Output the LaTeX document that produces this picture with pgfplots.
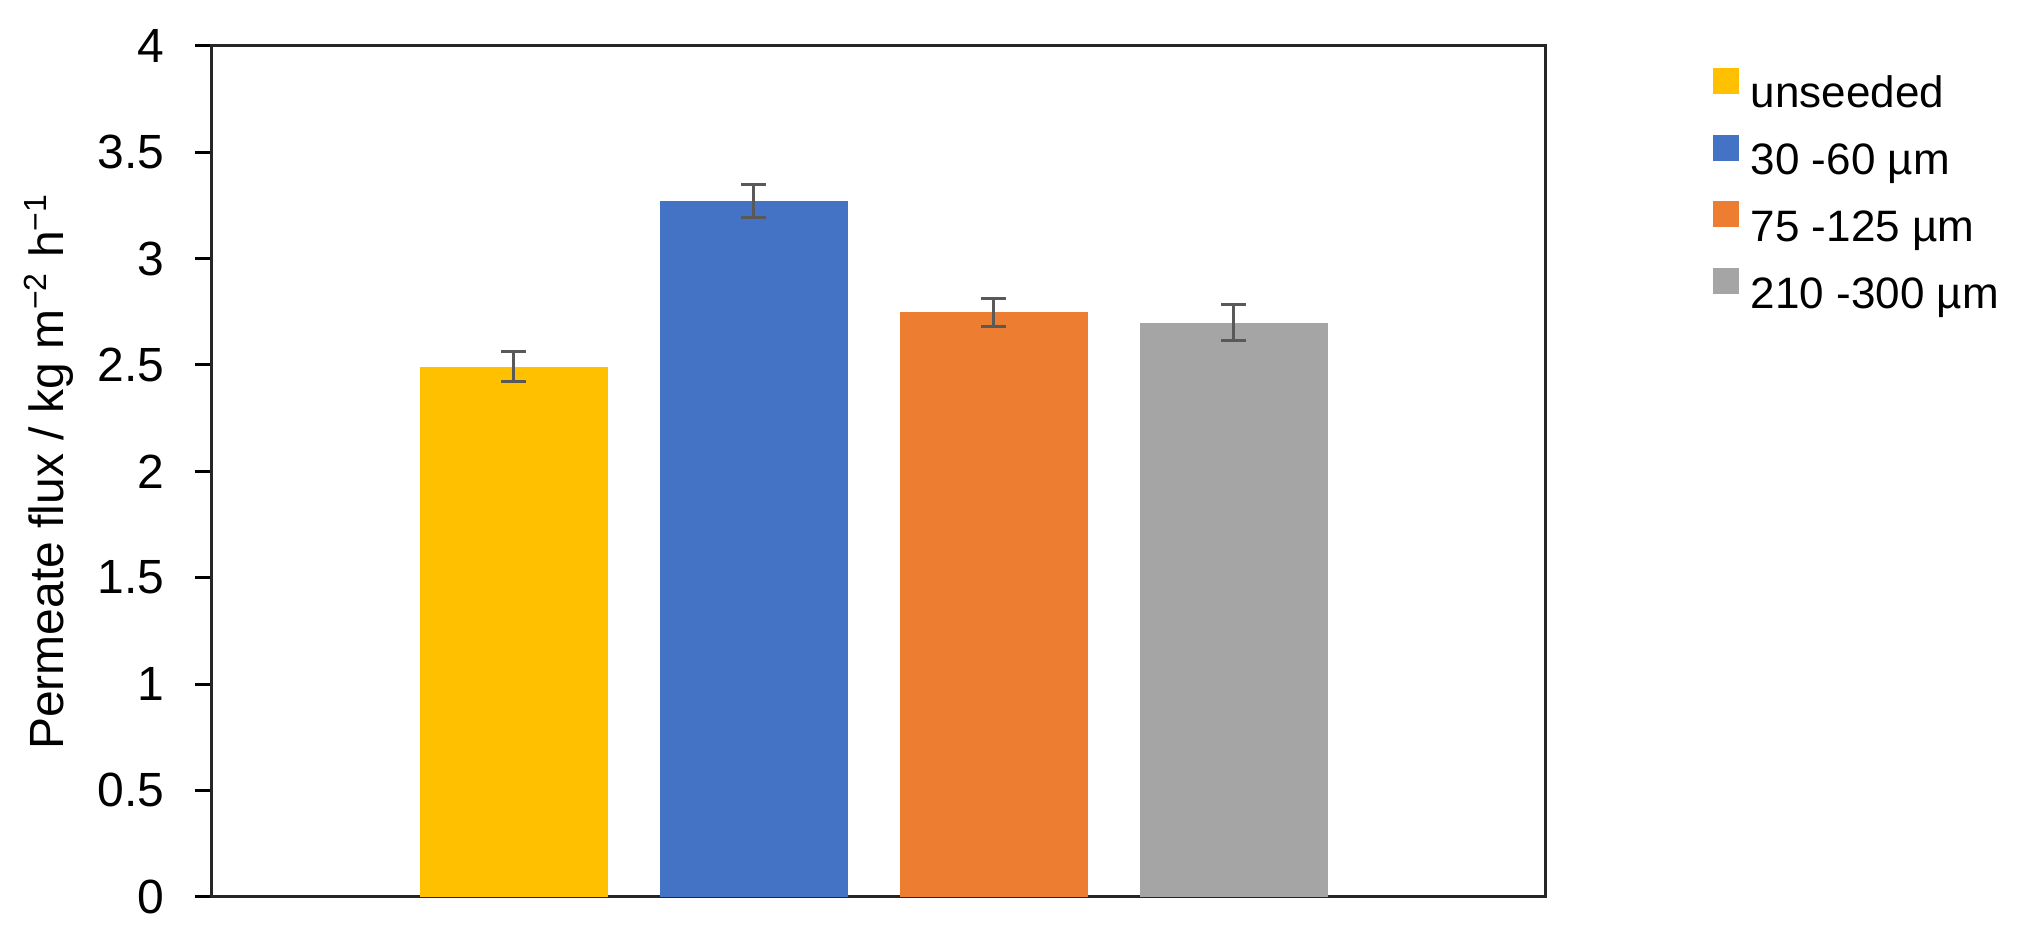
\documentclass[border=0pt]{standalone}
\usepackage{fontspec}
\setmainfont{Liberation Sans}
\usepackage{pgfplots}
\pgfplotsset{compat=1.18}

\definecolor{cyellow}{HTML}{FFC000}
\definecolor{cblue}{HTML}{4472C4}
\definecolor{corange}{HTML}{ED7D31}
\definecolor{cgray}{HTML}{A5A5A5}
\definecolor{errcol}{HTML}{595959}

\newcommand{\fs}{\fontsize{12}{14}\selectfont}
\newcommand{\fl}{\fontsize{11}{13}\selectfont}

\begin{document}
\begin{tikzpicture}
\begin{axis}[
  scale only axis,
  width=333.25pt, height=212.75pt,
  ybar, bar width=47pt,
  xmin=-1.258, xmax=4.296,
  ymin=0, ymax=4,
  ytick={0,0.5,...,4},
  xtick=\empty,
  ytick pos=left,
  tick align=outside,
  major tick length=4.25pt,
  tick style={black, line width=0.75pt},
  axis line style={black!85, line width=0.75pt},
  /pgf/number format/assume math mode=true,
  yticklabel style={font=\fs, inner sep=0pt, anchor=east, xshift=-7.5pt},
  every axis y label/.style={at={(rel axis cs:0,0.5)}, xshift=-40.75pt, rotate=90, anchor=center, font=\fs},
  ylabel={Permeate flux / kg m\textsuperscript{−2} h\textsuperscript{−1}},
  legend style={at={(1.1253,0.975)}, anchor=north west, draw=none, fill=none,
    inner sep=0pt, font=\fl, row sep=3.75pt,
    nodes={inner sep=0pt, text height=8.5pt, text depth=3pt}},
  legend cell align=left,
  legend image code/.code={\fill[#1] (0pt,0.7pt) rectangle (6.5pt,7.2pt);},
  /tikz/every odd column/.append style={column sep=3pt},
  error bars/y dir=both, error bars/y explicit,
  error bars/error mark options={errcol, line width=0.75pt, mark size=3.125pt, rotate=90},
  error bars/error bar style={errcol, line width=0.75pt},
]
\addplot[fill=cyellow, draw=none, bar shift=0pt] coordinates {(0,2.491) +- (0,0.0705)};
\addplot[fill=cblue, draw=none, bar shift=0pt] coordinates {(1,3.271) +- (0,0.076)};
\addplot[fill=corange, draw=none, bar shift=0pt] coordinates {(2,2.747) +- (0,0.065)};
\addplot[fill=cgray, draw=none, bar shift=0pt] coordinates {(3,2.698) +- (0,0.084)};
\legend{unseeded, 30 -60 µm, 75 -125 µm, 210 -300 µm}
\end{axis}
\pgfresetboundingbox
\path[use as bounding box] ([shift={(-53pt,-12.3pt)}]current axis.south west) rectangle ([shift={(453.75pt,224.2pt)}]current axis.south west);
\end{tikzpicture}
\end{document}
